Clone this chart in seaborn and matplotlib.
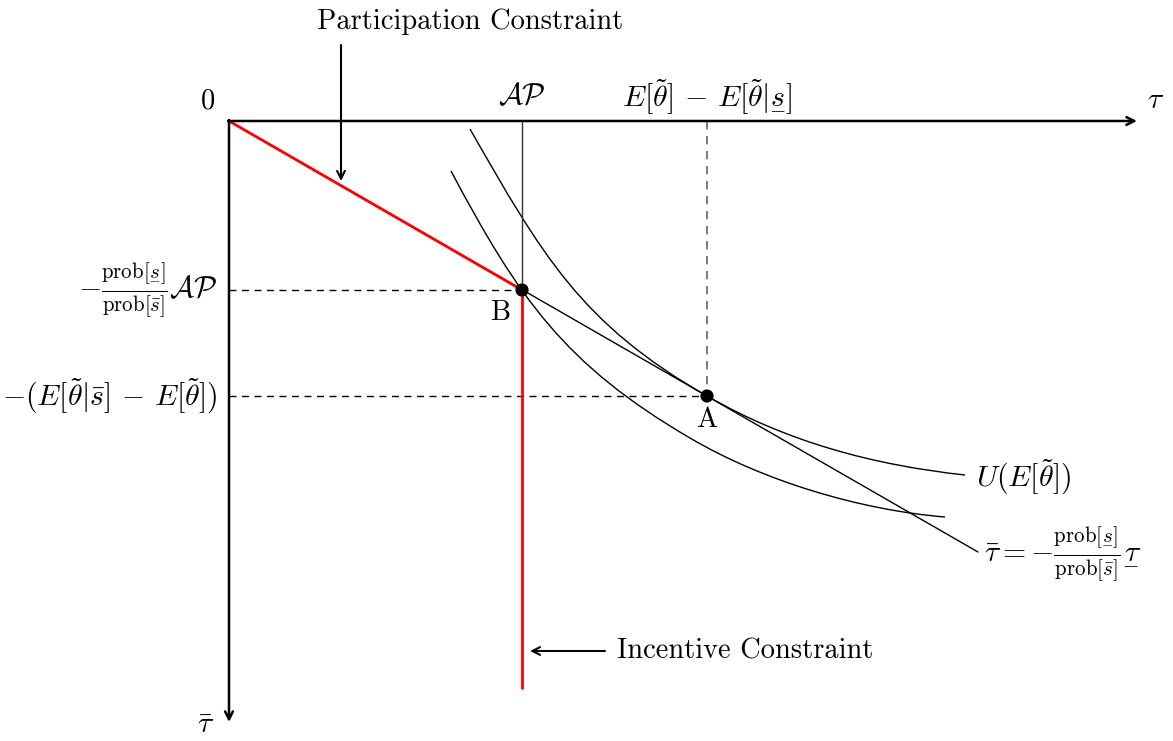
import matplotlib
matplotlib.use("Agg")
import matplotlib.pyplot as plt
from matplotlib.path import Path
from matplotlib.patches import PathPatch
import pandas as pd
import seaborn as sns

sns.set_theme(style="white")
plt.rcParams["mathtext.fontset"] = "cm"
plt.rcParams["font.family"] = ["cmr10", "DejaVu Serif"]
plt.rcParams["axes.unicode_minus"] = False
plt.rcParams["axes.formatter.use_mathtext"] = True
plt.rcParams["text.color"] = "black"

# values (tau to the right, tau_bar negative downward)
tau_max = 9.08
taubar_min = -6.01
ap = 2.93                      # A-P on the tau axis
point_b = (2.93, -1.69)
point_a = (4.78, -2.75)
budget_end = (7.49, -4.31)     # end of the line tau_bar = -k tau
ic_bottom = -5.67              # foot of the incentive constraint

# control points of the two indifference curves (two cubic pieces each)
u_outer_x = [2.41, 3.13, 3.52, 4.78, 5.58, 6.44, 7.36]
u_outer_y = [-0.08, -1.34, -2.03, -2.75, -3.21, -3.44, -3.54]
u_inner_x = [2.22, 2.90, 3.36, 4.61, 5.34, 6.31, 7.16]
u_inner_y = [-0.50, -1.78, -2.44, -3.17, -3.60, -3.89, -3.96]

fig = plt.figure(figsize=(11.73, 7.41), dpi=100)
ax = fig.add_axes([0, 0, 1, 1])
ax.set_xlim(-2.29, 9.44)
ax.set_ylim(-6.20, 1.21)
ax.axis("off")

def seg(x, y, **kw):
    df = pd.DataFrame({"x": x, "y": y})
    sns.lineplot(data=df, x="x", y="y", sort=False, estimator=None, ax=ax, **kw)

# curves
codes = [Path.MOVETO] + [Path.CURVE4] * 6
for cx, cy in [(u_outer_x, u_outer_y), (u_inner_x, u_inner_y)]:
    p = Path(list(zip(cx, cy)), codes)
    ax.add_patch(PathPatch(p, fill=False, lw=1.0, ec="black", zorder=2))

# budget line through B and A
seg([0, budget_end[0]], [0, budget_end[1]], color="black", lw=1.0, zorder=2)
# A-P vertical
seg([ap, ap], [0, point_b[1]], color="#333333", lw=1.0, zorder=2)
# dashed guides
seg([0, point_b[0]], [point_b[1], point_b[1]], color="black", lw=1.0,
    linestyle=(0, (5, 4)), zorder=2)
seg([0, point_a[0]], [point_a[1], point_a[1]], color="black", lw=1.0,
    linestyle=(0, (5, 4)), zorder=2)
seg([point_a[0], point_a[0]], [0, point_a[1]], color="#666666", lw=1.2,
    linestyle=(0, (5, 4)), zorder=2)

# constraints in red
seg([0, point_b[0]], [0, point_b[1]], color="red", lw=2.0, zorder=3)
seg([ap, ap], [point_b[1], ic_bottom], color="red", lw=2.0, zorder=3)

# points
pts = pd.DataFrame({"x": [point_b[0], point_a[0]], "y": [point_b[1], point_a[1]]})
sns.scatterplot(data=pts, x="x", y="y", color="black", s=90, edgecolor="none",
                zorder=5, ax=ax)

# axes with arrows
arrow = dict(arrowstyle="->", lw=1.8, color="black", shrinkA=0, shrinkB=0,
             mutation_scale=14)
ax.annotate("", xy=(tau_max, 0), xytext=(-0.01, 0), arrowprops=arrow, zorder=4)
ax.annotate("", xy=(0, taubar_min), xytext=(0, 0.01), arrowprops=arrow, zorder=4)

thin = dict(arrowstyle="->", lw=1.5, color="black", shrinkA=0, shrinkB=0,
            mutation_scale=14)
ax.annotate("", xy=(1.12, -0.60), xytext=(1.12, 0.76), arrowprops=thin)
ax.annotate("", xy=(3.01, -5.30), xytext=(3.76, -5.30), arrowprops=thin)

us = r"\underset{-}{s}"
ut = r"\underset{-}{\tau}"
fs = 20.5
ms = 21.5
ax.text(2.41, 0.99, "Participation Constraint", fontsize=fs, ha="center", va="center")
ax.text(3.88, -5.30, "Incentive Constraint", fontsize=fs, ha="left", va="center")
ax.text(-0.21, 0.20, "0", fontsize=fs, ha="center", va="center")
ax.text(ap, 0.25, r"$\mathcal{AP}$", fontsize=ms, ha="center", va="center")
ax.text(point_a[0], 0.25, r"$E[\tilde{\theta}]\,-\,E[\tilde{\theta}|" + us + "]$",
        fontsize=ms, ha="center", va="center")
ax.text(9.16, 0.23, "$" + ut + "$", fontsize=ms, ha="left", va="center")
ax.text(-0.12, point_b[1],
        r"$-\frac{\mathrm{prob}[" + us + r"]}{\mathrm{prob}[\bar{s}]}\mathcal{AP}$",
        fontsize=ms, ha="right", va="center")
ax.text(-0.12, point_a[1], r"$-(E[\tilde{\theta}|\bar{s}]\,-\,E[\tilde{\theta}])$",
        fontsize=ms, ha="right", va="center")
ax.text(2.71, -1.92, "B", fontsize=fs, ha="center", va="center")
ax.text(point_a[0], -2.99, "A", fontsize=fs, ha="center", va="center")
ax.text(7.47, -3.56, r"$U(E[\tilde{\theta}])$", fontsize=ms, ha="left", va="center")
ax.text(7.55, -4.33,
        r"$\bar{\tau}=-\frac{\mathrm{prob}[" + us + r"]}{\mathrm{prob}[\bar{s}]}" + ut + "$",
        fontsize=ms, ha="left", va="center")
ax.text(-0.23, -6.04, r"$\bar{\tau}$", fontsize=ms, ha="center", va="center")

fig.savefig("out.png", dpi=100, facecolor="white")
